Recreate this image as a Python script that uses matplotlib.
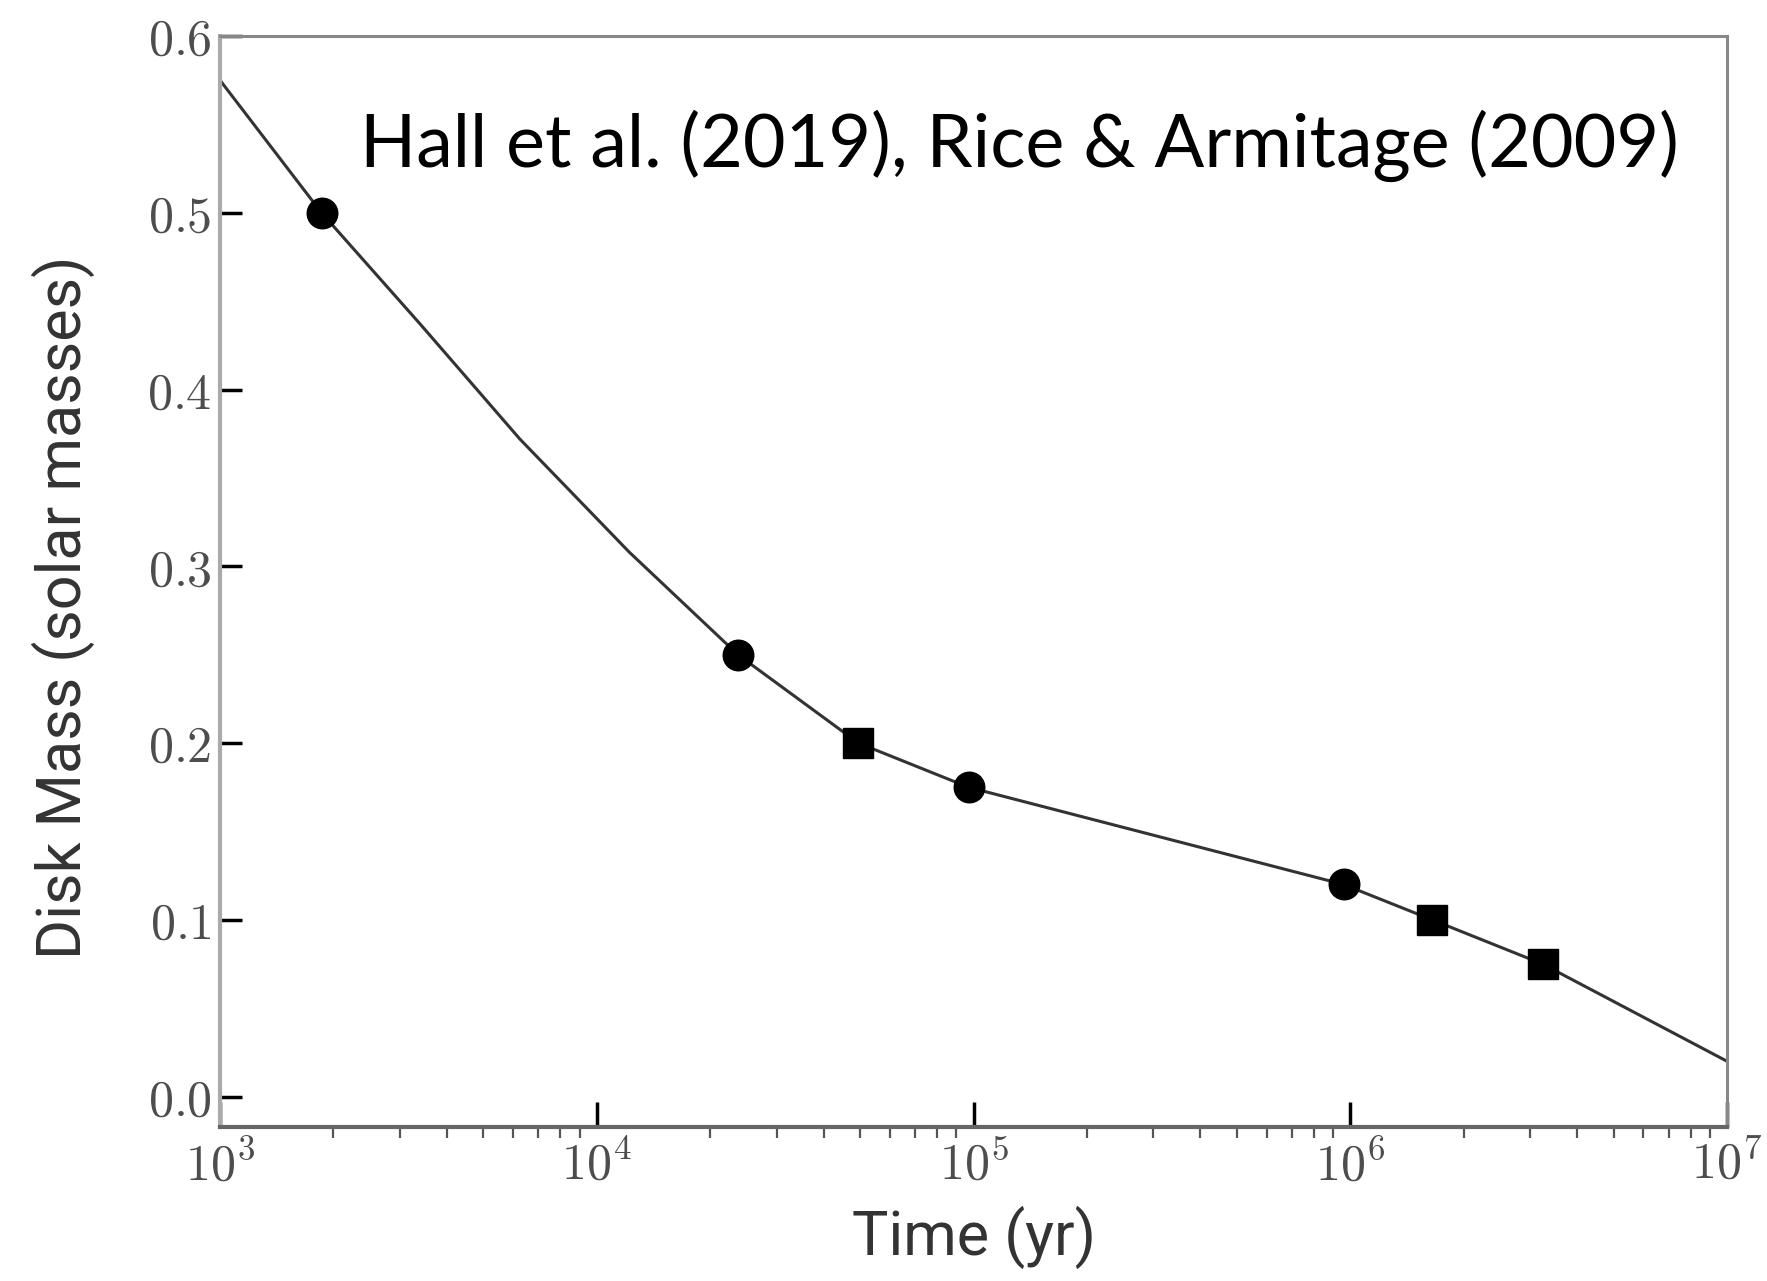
import numpy as np
import matplotlib
matplotlib.use("Agg")
import matplotlib.pyplot as plt
from matplotlib.ticker import FuncFormatter, LogLocator, NullFormatter

# curve
curve_t = [1e3, 1.86e3, 3.4e3, 6.25e3, 1.22e4, 2.37e4, 4.95e4, 9.7e4, 9.6e5, 1.65e6, 3.24e6, 1e7]
curve_m = [0.575, 0.50, 0.437, 0.372, 0.308, 0.25, 0.20, 0.175, 0.12, 0.10, 0.075, 0.02]

# circle markers
circ_t = [1.86e3, 2.37e4, 9.7e4, 9.6e5]
circ_m = [0.50, 0.25, 0.175, 0.12]

# square markers
sq_t = [4.95e4, 1.65e6, 3.24e6]
sq_m = [0.20, 0.10, 0.075]

yticks = [0.0, 0.1, 0.2, 0.3, 0.4, 0.5, 0.6]
xticks = [1e3, 1e4, 1e5, 1e6, 1e7]

plt.rcParams['mathtext.fontset'] = 'cm'

fig = plt.figure(figsize=(17.67, 12.81), dpi=100)
ax = fig.add_axes([0.1245, 0.1202, 0.8529, 0.8517])

ax.plot(curve_t, curve_m, color='#333333', lw=2.2, zorder=2)
ax.plot(circ_t, circ_m, 'o', color='black', markersize=22, zorder=3)
ax.plot(sq_t, sq_m, 's', color='black', markersize=21, zorder=3)

ax.set_xscale('log')
ax.set_xlim(1e3, 1e7)
ax.set_ylim(-0.0172, 0.6)

# ticks
ax.set_xticks(xticks)
ax.xaxis.set_major_formatter(FuncFormatter(lambda v, p: r'$10^{%d}$' % int(round(np.log10(v)))))
ax.xaxis.set_minor_locator(LogLocator(base=10, subs=np.arange(2, 10)))
ax.xaxis.set_minor_formatter(NullFormatter())
ax.set_yticks(yticks)
ax.yaxis.set_major_formatter(FuncFormatter(lambda v, p: r'$%.1f$' % v))

ax.tick_params(axis='y', which='major', direction='in', length=16, width=2.5,
               color='black', labelsize=36, labelcolor='#4d4d4d', pad=6,
               left=True, right=False)
ax.tick_params(axis='x', which='major', direction='in', length=18, width=2.5,
               color='black', labelsize=36, labelcolor='#4d4d4d', pad=10,
               top=False)
ax.tick_params(axis='x', which='minor', direction='out', length=8, width=1.6,
               color='#555555', top=False)

# spines
ax.spines['left'].set_color('#aaaaaa')
ax.spines['left'].set_linewidth(3)
ax.spines['bottom'].set_color('#666666')
ax.spines['bottom'].set_linewidth(3)
ax.spines['top'].set_color('#888888')
ax.spines['top'].set_linewidth(2.2)
ax.spines['right'].set_color('#888888')
ax.spines['right'].set_linewidth(2.2)

ax.set_xlabel('Time (yr)', fontsize=44, family='Roboto', color='#333333')
ax.set_ylabel('Disk Mass (solar masses)', fontsize=44, family='Roboto', color='#333333')
ax.xaxis.set_label_coords(0.5, -0.072)
ax.yaxis.set_label_coords(-0.083, 0.476)

ax.text(0.968, 0.880, 'Hall et al. (2019), Rice & Armitage (2009)', transform=ax.transAxes,
        ha='right', va='baseline', fontsize=53, family='Lato', color='black')

fig.savefig('out.png', dpi=100)
